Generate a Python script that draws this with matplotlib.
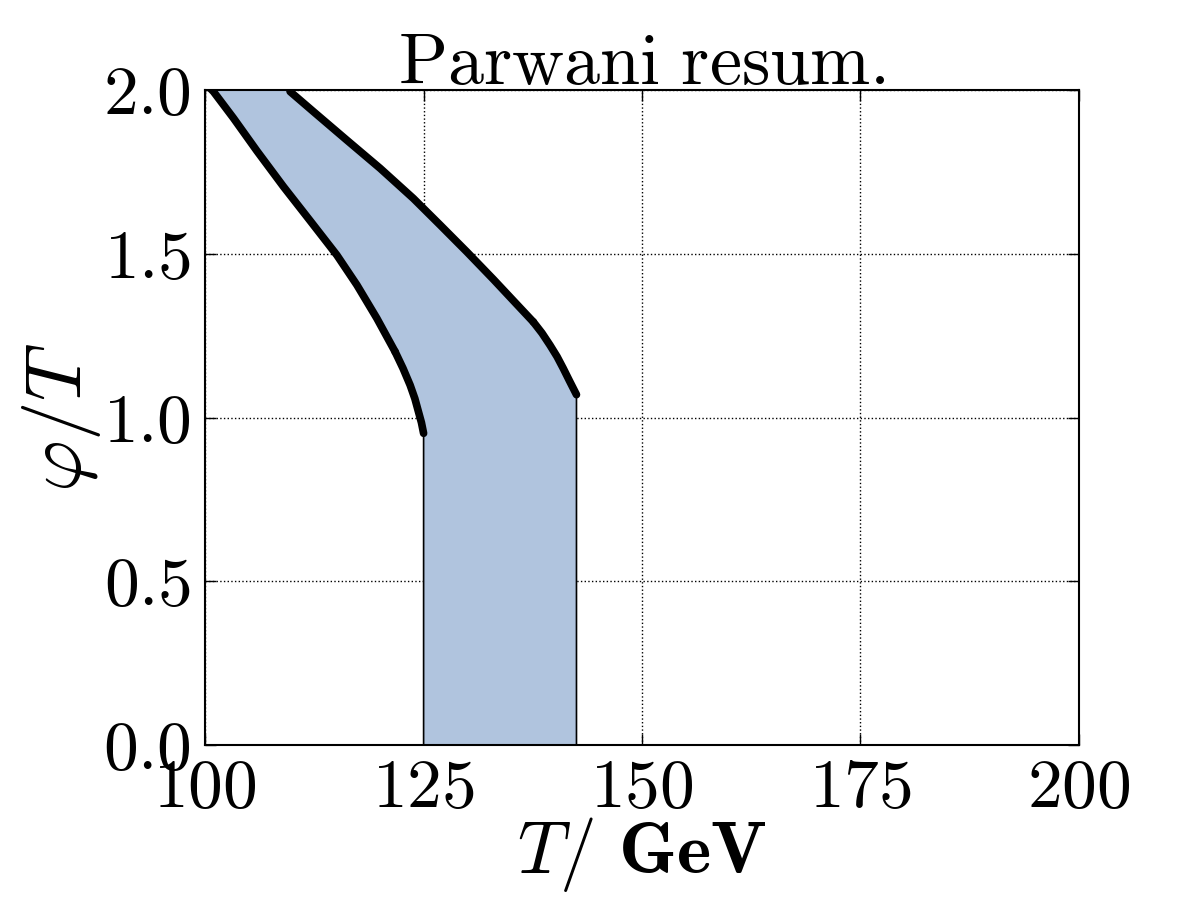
import numpy as np
import matplotlib
matplotlib.use('Agg')
import matplotlib.pyplot as plt
from matplotlib.ticker import FormatStrFormatter

plt.rcParams['mathtext.fontset'] = 'cm'
plt.rcParams['font.family'] = 'serif'
plt.rcParams['font.serif'] = ['cmr10']
plt.rcParams['axes.formatter.use_mathtext'] = True

# lower boundary (phi/T vs T), two pieces
low1_T = [100.4, 100.95, 103.24, 105.92, 108.96, 112.01, 115.07, 117.36, 119.65, 121.74]
low1_phi = [2.01, 1.995, 1.914, 1.814, 1.705, 1.601, 1.496, 1.405, 1.303, 1.201]
low2_T = [121.74, 122.65, 123.46, 124.0, 124.41, 124.75, 125.0]
low2_phi = [1.201, 1.150, 1.099, 1.058, 1.018, 0.985, 0.952]

# upper boundary, two pieces
up1_T = [109.6, 109.73, 112.39, 116.21, 120.02, 123.83, 126.89, 129.95, 132.99, 135.66, 137.56]
up1_phi = [2.01, 1.995, 1.934, 1.847, 1.761, 1.669, 1.588, 1.506, 1.422, 1.346, 1.292]
up2_T = [137.56, 138.55, 139.47, 140.28, 140.99, 141.70, 142.5]
up2_phi = [1.292, 1.258, 1.221, 1.186, 1.150, 1.112, 1.070]

T_left_end = 125.0
T_right_end = 142.5

fig = plt.figure(figsize=(12, 9), dpi=100)
ax = fig.add_axes([0.171, 0.172, 0.728, 0.728])

# shaded band
poly_T = low1_T + low2_T[1:] + [T_left_end, T_right_end] + up2_T[::-1] + up1_T[::-1][1:]
poly_phi = low1_phi + low2_phi[1:] + [0.0, 0.0] + up2_phi[::-1] + up1_phi[::-1][1:]
ax.fill(poly_T, poly_phi, facecolor='lightsteelblue', edgecolor='k', linewidth=1.2, zorder=2)

for xs, ys in [(low1_T, low1_phi), (low2_T, low2_phi), (up1_T, up1_phi), (up2_T, up2_phi)]:
    ax.plot(xs, ys, color='k', linewidth=5.5, solid_capstyle='round',
            solid_joinstyle='round', zorder=3)

ax.set_xlim(100, 200)
ax.set_ylim(0, 2)
ax.set_xticks([100, 125, 150, 175, 200])
ax.set_yticks([0.0, 0.5, 1.0, 1.5, 2.0])
ax.xaxis.set_major_formatter(FormatStrFormatter('$%d$'))
ax.yaxis.set_major_formatter(FormatStrFormatter('$%.1f$'))
ax.tick_params(direction='in', length=8, width=1, labelsize=50, top=True, right=True, pad=10)
ax.grid(True, linestyle=':', color='k', linewidth=1)
for s in ax.spines.values():
    s.set_linewidth(1.5)

ax.set_xlabel(r'$T/\ \mathbf{GeV}$', fontsize=53, labelpad=-4)
ax.set_ylabel(r'$\varphi/T$', fontsize=57, labelpad=0)
ax.set_title(r'$\mathrm{Parwani\ resum.}$', fontsize=52, pad=4)

fig.savefig('out.png', dpi=100)
